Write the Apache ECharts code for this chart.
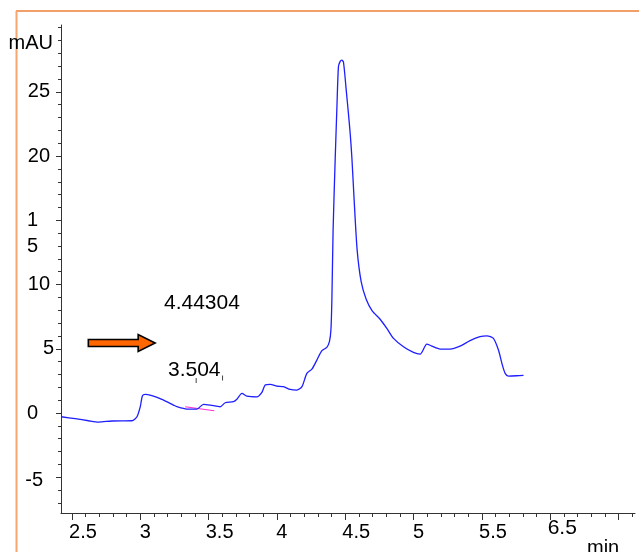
<!DOCTYPE html>
<html>
<head>
<meta charset="utf-8">
<script src="https://cdn.jsdelivr.net/npm/echarts@6/dist/echarts.min.js"></script>
<style>
  html, body { margin: 0; padding: 0; background: #fff; }
  #chart { width: 639px; height: 552px; }
</style>
</head>
<body>
<div id="chart"></div>
<script>
// Retention time (min) and detector response (mAU) of the trace
const retentionTime = [2.422, 2.524, 2.621, 2.695, 2.793, 2.939, 2.976, 3.000, 3.016, 3.036,
  3.085, 3.158, 3.243, 3.268, 3.341, 3.414, 3.463, 3.512, 3.585, 3.621,
  3.682, 3.707, 3.744, 3.780, 3.853, 3.890, 3.914, 3.951, 4.000, 4.048,
  4.097, 4.146, 4.183, 4.219, 4.256, 4.292, 4.329, 4.365, 4.384, 4.395,
  4.402, 4.411, 4.426, 4.439, 4.450, 4.462, 4.475, 4.487, 4.507, 4.523,
  4.536, 4.548, 4.565, 4.587, 4.616, 4.653, 4.697, 4.755, 4.804, 4.853,
  4.926, 4.999, 5.048, 5.097, 5.133, 5.194, 5.267, 5.340, 5.413, 5.486,
  5.536, 5.584, 5.621, 5.646, 5.670, 5.694, 5.755, 5.804];
const signal = [-0.29, -0.44, -0.60, -0.70, -0.62, -0.60, -0.29, 0.49, 1.35, 1.46,
  1.35, 1.07, 0.62, 0.49, 0.31, 0.31, 0.68, 0.62, 0.49, 0.80,
  0.88, 1.07, 1.53, 1.32, 1.26, 1.61, 2.18, 2.23, 2.10, 2.05,
  1.84, 1.79, 2.05, 3.09, 3.42, 4.12, 4.85, 5.11, 5.55, 6.46,
  8.79, 14.24, 19.68, 23.83, 26.94, 27.35, 27.46, 27.30, 25.13, 23.32,
  21.76, 19.94, 16.57, 12.68, 10.25, 8.85, 7.95, 7.30, 6.59, 5.81,
  5.16, 4.72, 4.59, 5.37, 5.21, 4.98, 4.98, 5.21, 5.63, 5.94,
  6.01, 5.81, 4.90, 3.87, 3.09, 2.88, 2.90, 2.93];

// Integration baseline under the small peak
const baselineTime = [3.329, 3.541];
const baselineValue = [0.49, 0.18];

// Peak start / end markers
const markerTime = [3.409, 3.602];
const markerValue = [2.53, 2.72];

// Text annotations
const noteText = ['4.44304', '3.504'];
const noteTime = [3.451, 3.395];
const noteValue = [8.56, 3.31];

// Arrow annotation (tail and tip in data units)
const arrowTime = [2.62, 3.109];
const arrowValue = 5.45;

// Axis ticks and labels
const xTicks = [2.5, 3, 3.5, 4, 4.5, 5, 5.5, 6];
const xTickText = ['2.5', '3', '3.5', '4', '4.5', '5', '5.5', '6.5'];
const xMajorTicks = [2.5, 3, 3.5, 4, 4.5, 5, 5.5, 6, 6.5];
const yTicks = [-5, 0, 5, 10, 15, 20, 25];
const yTickText = ['-5', '0', '5', '10', '15', '20', '25'];

const FONT = '"Liberation Sans", Arial, sans-serif';
const AXIS_COLOR = '#333';
const TEXT_COLOR = '#000';

const xMinor = [];
for (let i = 25; i <= 66; i++) xMinor.push(+(i / 10).toFixed(1));
const yMinor = [];
for (let v = -7; v <= 30; v++) yMinor.push(v);

const X_MIN = 2.42, X_MAX = 6.62, Y_MIN = -7.78, Y_MAX = 30.2;

const chart = echarts.init(document.getElementById('chart'), null, { renderer: 'canvas' });

const yPad = { '-5': 11, '0': 16, '5': 0, '10': 4, '15': 16, '20': 4, '25': 4 };

const option = {
  animation: false,
  backgroundColor: '#fff',
  grid: { left: 61, right: 4, top: 25, bottom: 39, containLabel: false, outerBoundsMode: 'none' },
  xAxis: [
    {
      type: 'value', min: X_MIN, max: X_MAX, position: 'bottom',
      name: 'min', nameLocation: 'end', nameGap: -48,
      nameTextStyle: { fontFamily: FONT, fontSize: 20, color: TEXT_COLOR, align: 'left', verticalAlign: 'top', padding: [25, 0, 0, 0] },
      axisLine: { show: true, onZero: false, lineStyle: { color: AXIS_COLOR, width: 1 } },
      axisTick: { show: true, inside: false, length: 7, customValues: xMajorTicks, lineStyle: { color: AXIS_COLOR } },
      axisLabel: {
        show: true, margin: 4, customValues: xTicks,
        fontFamily: FONT, fontSize: 20, color: TEXT_COLOR,
        formatter: function (v) {
          const i = xTicks.findIndex(t => Math.abs(t - v) < 1e-6);
          const s = i >= 0 ? xTickText[i] : '';
          if (s === '6.5') return '{s|' + s + '}';
          return (s.length > 1 ? '{w|' : '{n|') + s + '}';
        },
        rich: {
          w: { fontFamily: FONT, fontSize: 20, color: TEXT_COLOR, padding: [5, 0, 0, 22] },
          n: { fontFamily: FONT, fontSize: 20, color: TEXT_COLOR, padding: [5, 0, 0, 10] },
          s: { fontFamily: FONT, fontSize: 21, color: TEXT_COLOR, padding: [1, 0, 0, 24] }
        }
      },
      splitLine: { show: false }
    },
    {
      type: 'value', min: X_MIN, max: X_MAX, position: 'bottom',
      axisLine: { show: false, onZero: false },
      axisTick: { show: true, length: 4, customValues: xMinor, lineStyle: { color: AXIS_COLOR } },
      axisLabel: { show: false },
      splitLine: { show: false }
    }
  ],
  yAxis: [
    {
      type: 'value', min: Y_MIN, max: Y_MAX, position: 'left',
      name: 'mAU', nameLocation: 'end', nameGap: -18,
      nameTextStyle: { fontFamily: FONT, fontSize: 20, color: TEXT_COLOR, align: 'right', verticalAlign: 'middle', padding: [0, 8, 0, 0] },
      axisLine: { show: true, onZero: false, lineStyle: { color: AXIS_COLOR, width: 1 } },
      axisTick: { show: true, length: 5, customValues: yTicks, lineStyle: { color: AXIS_COLOR } },
      axisLabel: {
        show: true, margin: 7, customValues: yTicks,
        fontFamily: FONT, fontSize: 20, color: TEXT_COLOR,
        formatter: function (v) {
          const i = yTicks.findIndex(t => Math.abs(t - v) < 1e-6);
          const s = i >= 0 ? yTickText[i] : '';
          const key = 'p' + (yPad[s] !== undefined ? yPad[s] : 4);
          if (s.length === 2 && s[0] === '1' && s[1] === '5') {
            // wrapped label: digits stacked under the tick
            return '{' + key + '| }\n{' + key + '|1}\n{' + key + '|5}';
          }
          return '{' + key + '|' + s + '}';
        },
        rich: {
          p0: { fontFamily: FONT, fontSize: 20, color: TEXT_COLOR, lineHeight: 26, padding: [0, 0, 0, 0] },
          p4: { fontFamily: FONT, fontSize: 20, color: TEXT_COLOR, lineHeight: 26, padding: [0, 4, 0, 0] },
          p11: { fontFamily: FONT, fontSize: 20, color: TEXT_COLOR, lineHeight: 26, padding: [6, 11, 0, 0] },
          p16: { fontFamily: FONT, fontSize: 20, color: TEXT_COLOR, lineHeight: 26, padding: [0, 16, 0, 0] }
        }
      },
      splitLine: { show: false }
    },
    {
      type: 'value', min: Y_MIN, max: Y_MAX, position: 'left',
      axisLine: { show: false, onZero: false },
      axisTick: { show: true, length: 3, customValues: yMinor, lineStyle: { color: AXIS_COLOR } },
      axisLabel: { show: false },
      splitLine: { show: false }
    }
  ],
  series: [
    {
      name: 'trace', type: 'line', xAxisIndex: 0, yAxisIndex: 0,
      data: retentionTime.map((t, i) => [t, signal[i]]),
      showSymbol: false, smooth: 0.25, clip: false,
      lineStyle: { color: '#1e1eff', width: 1.3 },
      z: 3
    },
    {
      name: 'baseline', type: 'line', xAxisIndex: 0, yAxisIndex: 0,
      data: baselineTime.map((t, i) => [t, baselineValue[i]]),
      showSymbol: false,
      lineStyle: { color: '#ff2fd0', width: 1.2 },
      z: 2
    },
    {
      name: 'markers', type: 'scatter', xAxisIndex: 0, yAxisIndex: 0,
      data: markerTime.map((t, i) => [t, markerValue[i]]),
      symbol: 'rect', symbolSize: [1, 5],
      itemStyle: { color: '#444', opacity: 1 }
    },
    {
      name: 'notes', type: 'scatter', xAxisIndex: 0, yAxisIndex: 0,
      data: noteText.map((s, i) => ({ name: s, value: [noteTime[i], noteValue[i]] })),
      symbolSize: 0,
      itemStyle: { opacity: 1 },
      label: {
        show: true, position: 'inside', formatter: '{b}', opacity: 1,
        fontFamily: FONT, fontSize: 21, color: TEXT_COLOR,
        textBorderWidth: 0
      }
    }
  ]
};

chart.setOption(option);

// Orange arrow and the frame lines drawn as graphics
const tail = chart.convertToPixel({ xAxisIndex: 0, yAxisIndex: 0 }, [arrowTime[0], arrowValue]);
const tip = chart.convertToPixel({ xAxisIndex: 0, yAxisIndex: 0 }, [arrowTime[1], arrowValue]);
const headLen = 17, bodyHalf = 3.5, headHalf = 8.5;
const hx = tip[0] - headLen, cy = tip[1];

chart.setOption({
  graphic: [
    {
      type: 'polygon', z: 10,
      shape: {
        points: [
          [tail[0], cy - bodyHalf], [hx, cy - bodyHalf], [hx, cy - headHalf],
          [tip[0], cy], [hx, cy + headHalf], [hx, cy + bodyHalf], [tail[0], cy + bodyHalf]
        ]
      },
      style: { fill: '#ff6600', stroke: '#000', lineWidth: 1.6 }
    },
    {
      type: 'line', z: 0,
      shape: { x1: 16, y1: 11, x2: 639, y2: 11 },
      style: { stroke: '#ef7f3a', lineWidth: 1.6 }
    },
    {
      type: 'line', z: 0,
      shape: { x1: 16.5, y1: 11, x2: 16.5, y2: 552 },
      style: { stroke: '#f6a870', lineWidth: 2 }
    }
  ]
});
</script>
</body>
</html>
